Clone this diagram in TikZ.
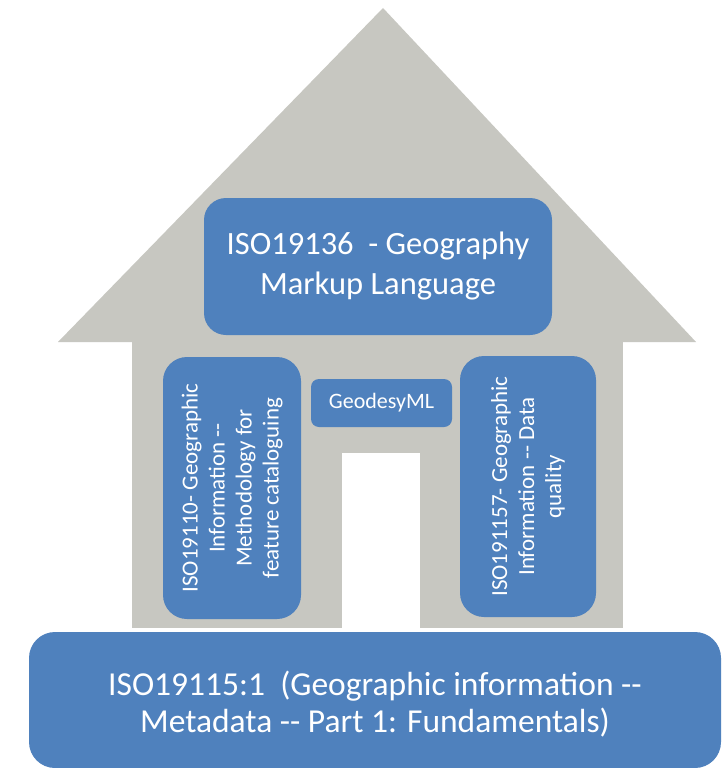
\documentclass[tikz,border=0pt]{standalone}
\usepackage{fontspec}
\setmainfont{Carlito}
\definecolor{boxblue}{HTML}{4F81BD}
\definecolor{housegray}{HTML}{C7C7C1}
\begin{document}
\begin{tikzpicture}[x=1pt,y=-1pt,
  bluebox/.style={fill=boxblue, draw=none, text=white, align=center, inner sep=0pt},
  bigtext/.style={font=\fontsize{32.5}{40}\selectfont},
  midtext/.style={font=\fontsize{23}{27}\selectfont}]
\useasboundingbox (0,0) rectangle (725,768);
\fill[white] (0,0) rectangle (725,768);
% house
\fill[housegray] (58,342) -- (383,8) -- (696,342) -- cycle;
\fill[housegray] (132,341) rectangle (623,628);
\fill[white] (342,453) rectangle (420,629);
% boxes
\node[bluebox, bigtext, rounded corners=22pt, minimum width=348pt, minimum height=137pt]
  (gml) at (378,266.5) {ISO19136 \ - Geography\\Markup Language};
\node[bluebox, midtext, rounded corners=24pt, rotate=90, minimum width=262pt, minimum height=138pt]
  (iso110) at (232,488) {ISO19110- Geographic\\Information -{}-\\Methodology for\\feature cataloguing};
\node[bluebox, font=\fontsize{22}{26}\selectfont, rounded corners=8pt, minimum width=141pt, minimum height=48pt]
  (geo) at (381.5,403) {GeodesyML};
\node[bluebox, midtext, rounded corners=24pt, rotate=90, minimum width=261pt, minimum height=136pt]
  (iso157) at (528,486.5) {ISO191157- Geographic\\Information -{}- Data\\quality};
\node[bluebox, rounded corners=26pt, minimum width=692pt, minimum height=136pt]
  (iso115) at (375,700) {};
\node[text=white, align=center, font=\fontsize{33.5}{37}\selectfont, inner sep=0pt]
  (iso115t) at ([yshift=-4pt]iso115.center) {ISO19115:1 \ (Geographic information -{}-\\Metadata -{}- Part 1: Fundamentals)};
\end{tikzpicture}
\end{document}
